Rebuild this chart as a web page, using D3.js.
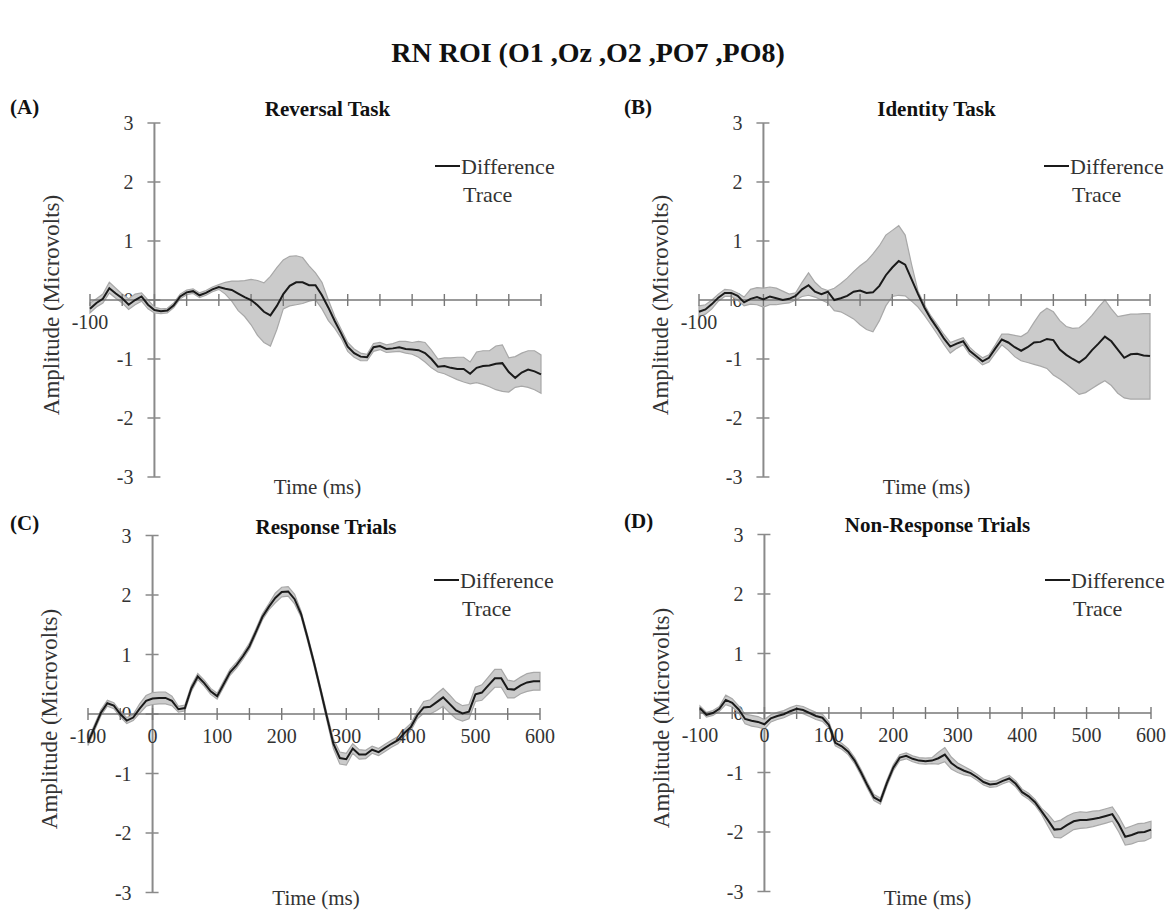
<!DOCTYPE html>
<html>
<head>
<meta charset="utf-8">
<script src="https://cdn.jsdelivr.net/npm/d3@7"></script>
<style>
  body { margin: 0; background: #fff; }
  text { font-family: "Liberation Serif", "Times New Roman", serif; }
</style>
</head>
<body>
<svg id="chart" width="1172" height="912"></svg>
<script>
// Sample times (ms) shared by every panel
const timeMs = [-100,-90,-80,-70,-60,-50,-40,-30,-20,-10,0,10,20,30,40,50,60,70,80,90,
  100,110,120,130,140,150,160,170,180,190,200,210,220,230,240,250,260,270,280,290,
  300,310,320,330,340,350,360,370,380,390,400,410,420,430,440,450,460,470,480,490,
  500,510,520,530,540,550,560,570,580,590,600];

// (A) Reversal Task: difference trace and shaded interval
const meanA = [-0.15,-0.05,0.02,0.2,0.11,0.03,-0.08,0.0,0.06,-0.08,-0.17,-0.19,-0.18,-0.09,0.06,0.13,0.15,0.08,0.12,0.18,
  0.22,0.19,0.17,0.11,0.05,0.0,-0.09,-0.2,-0.26,-0.1,0.1,0.24,0.3,0.3,0.25,0.25,0.08,-0.13,-0.36,-0.57,
  -0.79,-0.9,-0.96,-0.97,-0.8,-0.78,-0.83,-0.82,-0.8,-0.83,-0.84,-0.85,-0.9,-1.0,-1.13,-1.12,-1.15,-1.17,-1.17,-1.25,
  -1.15,-1.12,-1.11,-1.08,-1.07,-1.22,-1.32,-1.23,-1.18,-1.21,-1.26];
const upperA = [-0.05,0.02,0.1,0.3,0.2,0.1,0.02,0.1,0.12,0.0,-0.12,-0.15,-0.14,-0.05,0.1,0.17,0.19,0.12,0.16,0.22,
  0.26,0.3,0.32,0.32,0.33,0.35,0.33,0.29,0.4,0.55,0.68,0.74,0.75,0.72,0.58,0.46,0.3,0.0,-0.28,-0.5,
  -0.72,-0.83,-0.9,-0.92,-0.74,-0.72,-0.76,-0.74,-0.7,-0.7,-0.72,-0.7,-0.72,-0.85,-1.0,-0.98,-0.98,-0.97,-0.97,-1.05,
  -0.88,-0.86,-0.86,-0.78,-0.76,-0.98,-0.96,-0.9,-0.86,-0.86,-0.93];
const lowerA = [-0.22,-0.12,-0.05,0.12,0.03,-0.05,-0.16,-0.08,-0.02,-0.15,-0.22,-0.23,-0.22,-0.13,0.02,0.09,0.11,0.04,0.08,0.14,
  0.18,0.1,-0.02,-0.18,-0.28,-0.42,-0.6,-0.72,-0.78,-0.5,-0.15,-0.1,-0.08,-0.06,-0.02,0.0,-0.15,-0.35,-0.48,-0.65,
  -0.87,-0.97,-1.03,-1.03,-0.87,-0.84,-0.89,-0.88,-0.87,-0.9,-0.92,-0.97,-1.05,-1.15,-1.22,-1.25,-1.3,-1.35,-1.39,-1.42,
  -1.4,-1.43,-1.47,-1.52,-1.55,-1.56,-1.48,-1.46,-1.48,-1.52,-1.58];

// (B) Identity Task
const meanB = [-0.2,-0.16,-0.07,0.04,0.12,0.12,0.07,-0.04,0.02,0.05,0.01,0.06,0.03,0.0,0.02,0.07,0.18,0.25,0.14,0.1,
  0.14,0.0,0.03,0.07,0.14,0.16,0.12,0.13,0.24,0.42,0.55,0.66,0.6,0.35,0.1,-0.13,-0.32,-0.48,-0.65,-0.79,
  -0.74,-0.7,-0.86,-0.95,-1.04,-0.98,-0.82,-0.67,-0.72,-0.8,-0.86,-0.8,-0.72,-0.71,-0.66,-0.68,-0.84,-0.93,-1.0,-1.06,
  -0.98,-0.85,-0.74,-0.62,-0.7,-0.84,-0.98,-0.92,-0.91,-0.94,-0.95];
const upperB = [-0.1,-0.08,0.0,0.1,0.18,0.17,0.12,0.05,0.18,0.21,0.2,0.22,0.2,0.15,0.1,0.12,0.3,0.46,0.3,0.2,
  0.16,0.2,0.28,0.37,0.48,0.58,0.66,0.78,0.92,1.1,1.18,1.26,1.1,0.6,0.15,-0.08,-0.27,-0.42,-0.58,-0.72,
  -0.68,-0.64,-0.8,-0.9,-0.98,-0.93,-0.76,-0.58,-0.58,-0.6,-0.62,-0.55,-0.38,-0.22,-0.14,-0.2,-0.35,-0.45,-0.48,-0.47,
  -0.38,-0.26,-0.12,0.0,-0.15,-0.28,-0.26,-0.24,-0.24,-0.23,-0.23];
const lowerB = [-0.28,-0.24,-0.15,-0.02,0.06,0.06,0.0,-0.1,-0.07,-0.08,-0.12,-0.08,-0.08,-0.06,-0.05,0.0,0.06,0.08,0.05,0.0,
  -0.05,-0.18,-0.2,-0.26,-0.32,-0.42,-0.5,-0.54,-0.35,-0.1,0.06,0.08,0.07,-0.02,-0.12,-0.26,-0.42,-0.58,-0.75,-0.9,
  -0.82,-0.76,-0.92,-1.0,-1.1,-1.05,-0.9,-0.76,-0.85,-0.96,-1.03,-1.06,-1.09,-1.12,-1.16,-1.27,-1.34,-1.42,-1.51,-1.6,
  -1.57,-1.5,-1.43,-1.37,-1.45,-1.58,-1.66,-1.68,-1.68,-1.68,-1.68];

// (C) Response Trials: trace and half-width of the shaded interval
const meanC = [-0.48,-0.23,0.02,0.18,0.14,0.0,-0.11,-0.06,0.09,0.22,0.26,0.27,0.27,0.22,0.08,0.1,0.43,0.63,0.52,0.38,
  0.3,0.5,0.7,0.82,0.97,1.14,1.38,1.63,1.8,1.95,2.05,2.06,1.93,1.68,1.28,0.86,0.41,-0.05,-0.5,-0.74,
  -0.76,-0.58,-0.68,-0.68,-0.6,-0.64,-0.57,-0.5,-0.44,-0.32,-0.22,-0.02,0.11,0.12,0.2,0.28,0.17,0.06,0.01,0.04,
  0.33,0.36,0.48,0.6,0.6,0.42,0.41,0.48,0.53,0.55,0.55];
const errC = [0.05,0.05,0.05,0.05,0.05,0.05,0.05,0.05,0.08,0.09,0.1,0.1,0.1,0.08,0.05,0.05,0.05,0.05,0.05,0.05,
  0.05,0.05,0.05,0.05,0.05,0.05,0.05,0.05,0.05,0.08,0.08,0.08,0.08,0.05,0.05,0.05,0.05,0.06,0.08,0.1,
  0.1,0.08,0.08,0.07,0.06,0.06,0.06,0.06,0.06,0.06,0.06,0.06,0.1,0.12,0.14,0.15,0.15,0.14,0.13,0.12,
  0.12,0.13,0.14,0.15,0.15,0.15,0.14,0.14,0.15,0.15,0.15];

// (D) Non-Response Trials
const meanD = [0.08,-0.03,0.0,0.07,0.22,0.17,0.06,-0.1,-0.13,-0.15,-0.19,-0.09,-0.05,-0.02,0.03,0.07,0.05,0.0,-0.05,-0.08,
  -0.2,-0.5,-0.56,-0.65,-0.8,-1.0,-1.22,-1.42,-1.48,-1.18,-0.92,-0.75,-0.72,-0.77,-0.8,-0.81,-0.8,-0.76,-0.7,-0.84,
  -0.92,-0.97,-1.01,-1.08,-1.16,-1.2,-1.19,-1.14,-1.1,-1.19,-1.33,-1.4,-1.5,-1.65,-1.8,-1.96,-1.95,-1.88,-1.82,-1.8,
  -1.8,-1.78,-1.76,-1.73,-1.7,-1.87,-2.08,-2.05,-2.01,-2.0,-1.96];
const errD = [0.04,0.04,0.04,0.04,0.08,0.07,0.06,0.08,0.09,0.09,0.08,0.06,0.06,0.06,0.06,0.06,0.06,0.06,0.06,0.06,
  0.05,0.05,0.05,0.05,0.05,0.05,0.05,0.05,0.05,0.05,0.05,0.05,0.05,0.05,0.05,0.05,0.05,0.1,0.12,0.1,
  0.08,0.07,0.05,0.05,0.05,0.05,0.05,0.05,0.05,0.05,0.05,0.05,0.05,0.05,0.1,0.13,0.15,0.15,0.14,0.14,
  0.13,0.13,0.12,0.12,0.12,0.13,0.14,0.15,0.15,0.15,0.14];

// Axis ticks and labels
const yTickValues = [-3, -2, -1, 0, 1, 2, 3];
const xTickMarks = [-100,-50,0,50,100,150,200,250,300,350,400,450,500,550,600];
const xLabelsFull = [-100, 0, 100, 200, 300, 400, 500, 600];
const xLabelsTop = [-100];

const mainTitle = "RN ROI (O1 ,Oz ,O2 ,PO7 ,PO8)";
const yAxisTitle = "Amplitude (Microvolts)";
const xAxisTitle = "Time (ms)";
const legendLines = ["Difference", "Trace"];

const panels = [
  { letter: "(A)", title: "Reversal Task", mean: meanA, upper: upperA, lower: lowerA, xLabels: xLabelsTop,
    left: 90, right: 541, zero: 300, unit: 59, letterX: 10, letterY: 114, titleY: 116, legendY: 166, timeY: 494 },
  { letter: "(B)", title: "Identity Task", mean: meanB, upper: upperB, lower: lowerB, xLabels: xLabelsTop,
    left: 699, right: 1150, zero: 300, unit: 59, letterX: 624, letterY: 114, titleY: 116, legendY: 166, timeY: 494 },
  { letter: "(C)", title: "Response Trials", mean: meanC,
    upper: meanC.map((m, i) => m + errC[i]), lower: meanC.map((m, i) => m - errC[i]), xLabels: xLabelsFull,
    left: 88, right: 540, zero: 714, unit: 59.5, letterX: 10, letterY: 530, titleY: 534, legendY: 580, timeY: 905 },
  { letter: "(D)", title: "Non-Response Trials", mean: meanD,
    upper: meanD.map((m, i) => m + errD[i]), lower: meanD.map((m, i) => m - errD[i]), xLabels: xLabelsFull,
    left: 700, right: 1151, zero: 713, unit: 59.5, letterX: 624, letterY: 528, titleY: 532, legendY: 580, timeY: 905 }
];

const svg = d3.select("#chart");
const axisColor = "#8a8a8a";
const labelColor = "#333";

svg.append("text")
  .attr("x", 588).attr("y", 62)
  .attr("text-anchor", "middle")
  .attr("font-size", 28).attr("font-weight", "bold").attr("fill", "#111")
  .text(mainTitle);

panels.forEach(p => {
  const x = d3.scaleLinear().domain([-100, 600]).range([p.left, p.right]);
  const y = d3.scaleLinear().domain([-3, 3]).range([p.zero + 3 * p.unit, p.zero - 3 * p.unit]);
  const g = svg.append("g");
  const x0 = x(0);

  // panel letter and title
  g.append("text").attr("x", p.letterX).attr("y", p.letterY)
    .attr("font-size", 21).attr("font-weight", "bold").attr("fill", "#111").text(p.letter);
  g.append("text").attr("x", (p.left + p.right) / 2 + 12).attr("y", p.titleY)
    .attr("text-anchor", "middle").attr("font-size", 21).attr("font-weight", "bold").attr("fill", "#111")
    .text(p.title);

  // y axis line with ticks crossing it
  g.append("line").attr("x1", x0).attr("x2", x0).attr("y1", y(3)).attr("y2", y(-3))
    .attr("stroke", axisColor).attr("stroke-width", 2);
  g.selectAll(".ytick").data(yTickValues).join("line")
    .attr("x1", x0 - 7).attr("x2", x0 + 6)
    .attr("y1", d => y(d)).attr("y2", d => y(d))
    .attr("stroke", axisColor).attr("stroke-width", 1.5);
  g.selectAll(".ylab").data(yTickValues).join("text")
    .attr("x", x0 - 21).attr("y", d => y(d) + 7)
    .attr("text-anchor", "end").attr("font-size", 20).attr("fill", labelColor)
    .text(d => d);

  // shaded interval
  const idx = d3.range(timeMs.length);
  g.append("path").datum(idx)
    .attr("d", d3.area().x(i => x(timeMs[i])).y0(i => y(p.lower[i])).y1(i => y(p.upper[i])))
    .attr("fill", "#cbcbcb").attr("stroke", "#a8a8a8").attr("stroke-width", 1.2);

  // x axis line with ticks
  g.append("line").attr("x1", x(-100)).attr("x2", x(600)).attr("y1", y(0)).attr("y2", y(0))
    .attr("stroke", "#777").attr("stroke-width", 1.6);
  g.selectAll(".xtick").data(xTickMarks).join("line")
    .attr("x1", d => x(d)).attr("x2", d => x(d))
    .attr("y1", y(0) - 6).attr("y2", y(0) + 6)
    .attr("stroke", "#777").attr("stroke-width", 1.4);
  g.selectAll(".xlab").data(p.xLabels).join("text")
    .attr("x", d => x(d)).attr("y", y(0) + 29)
    .attr("text-anchor", "middle").attr("font-size", 20).attr("fill", labelColor)
    .text(d => d);

  // difference trace
  g.append("path").datum(idx)
    .attr("d", d3.line().x(i => x(timeMs[i])).y(i => y(p.mean[i])))
    .attr("fill", "none").attr("stroke", "#1a1a1a").attr("stroke-width", 2);

  // axis titles
  g.append("text")
    .attr("transform", `translate(${p.left - 31},${p.zero + 5}) rotate(-90)`)
    .attr("text-anchor", "middle").attr("font-size", 23).attr("fill", labelColor)
    .text(yAxisTitle);
  g.append("text").attr("x", (p.left + p.right) / 2 + 2).attr("y", p.timeY)
    .attr("text-anchor", "middle").attr("font-size", 21).attr("fill", labelColor)
    .text(xAxisTitle);

  // legend
  const lx = p.right - 106;
  g.append("line").attr("x1", lx).attr("x2", lx + 25).attr("y1", p.legendY).attr("y2", p.legendY)
    .attr("stroke", "#1a1a1a").attr("stroke-width", 2);
  g.append("text").attr("x", lx + 26).attr("y", p.legendY + 8)
    .attr("font-size", 22).attr("fill", labelColor).text(legendLines[0]);
  g.append("text").attr("x", lx + 28).attr("y", p.legendY + 36)
    .attr("font-size", 22).attr("fill", labelColor).text(legendLines[1]);
});
</script>
</body>
</html>
